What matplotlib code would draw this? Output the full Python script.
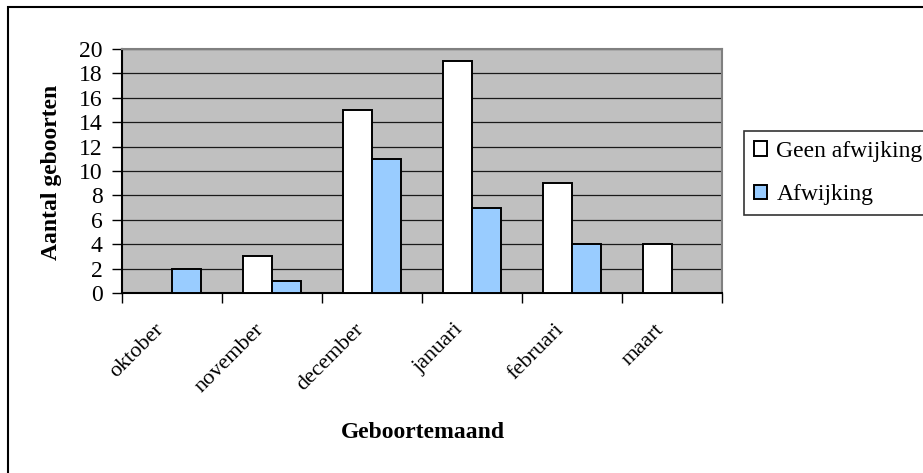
import matplotlib
matplotlib.use("Agg")
import matplotlib.pyplot as plt
from matplotlib.patches import Rectangle
from matplotlib.transforms import ScaledTranslation
import numpy as np

months = ["oktober", "november", "december", "januari", "februari", "maart"]
geen_afwijking = [0, 3, 15, 19, 9, 4]
afwijking = [2, 1, 11, 7, 4, 0]
series_names = ["Geen afwijking", "Afwijking"]
y_ticks = list(range(0, 21, 2))

plt.rcParams["font.family"] = ["Liberation Serif", "DejaVu Serif"]
FS = 17

W, H = 923, 473
fig = plt.figure(figsize=(W / 100, H / 100), dpi=100)

# outer chart frame
fig.patches.append(Rectangle((8 / W, -0.1), 1.2, (H - 7) / H + 0.1,
                             transform=fig.transFigure, fill=False,
                             edgecolor="black", linewidth=1.5, zorder=0))

ax = fig.add_axes([122 / W, (H - 293) / H, 600 / W, 244 / H])
ax.set_facecolor("#c0c0c0")

x = np.arange(len(months))
bw = 0.29
ax.bar(x - bw / 2, geen_afwijking, width=bw, color="white", edgecolor="black",
       linewidth=1.4, label=series_names[0], zorder=3)
ax.bar(x + bw / 2, afwijking, width=bw, color="#99ccff", edgecolor="black",
       linewidth=1.4, label=series_names[1], zorder=3)

ax.set_xlim(-0.5, len(months) - 0.5)
ax.set_ylim(0, 20)
ax.set_yticks(y_ticks)
ax.set_yticklabels([str(v) for v in y_ticks], fontsize=FS)
ax.yaxis.grid(True, color="#1a1a1a", linewidth=0.9, zorder=1)
ax.set_axisbelow(True)

# tick marks sit on the category boundaries
ax.set_xticks(np.arange(len(months) + 1) - 0.5)
ax.set_xticklabels([])
ax.tick_params(axis="x", direction="out", length=7, width=1, color="black")
ax.tick_params(axis="y", direction="out", length=7, width=1, color="black", pad=7)

# rotated month names below each category centre
label_shift = ScaledTranslation(-18 / 100, -27 / 100, fig.dpi_scale_trans)
for xi, name in zip(x, months):
    ax.text(xi, 0, name, transform=ax.get_xaxis_transform() + label_shift,
            rotation=45, rotation_mode="anchor", ha="right", va="top",
            fontsize=16)

ax.spines["left"].set_color("black")
ax.spines["bottom"].set_color("black")
ax.spines["top"].set_color("#808080")
ax.spines["right"].set_color("#808080")
for s in ax.spines.values():
    s.set_linewidth(1.5)

fig.text(52 / W, 1 - 172 / H, "Aantal geboorten", rotation=90, ha="center",
         va="center", fontsize=FS, fontweight="bold")
fig.text(423 / W, 1 - 432 / H, "Geboortemaand", ha="center", va="center",
         fontsize=FS, fontweight="bold")

leg = fig.legend(loc="upper left", bbox_to_anchor=(744 / W, (H - 131) / H),
                 fontsize=FS, frameon=True, fancybox=False, handlelength=0.55,
                 handleheight=0.55, handletextpad=0.4, labelspacing=0.95,
                 borderpad=0.42, borderaxespad=0)
leg.get_frame().set_edgecolor("black")
leg.get_frame().set_linewidth(1.2)

fig.savefig("out.png", dpi=100)
